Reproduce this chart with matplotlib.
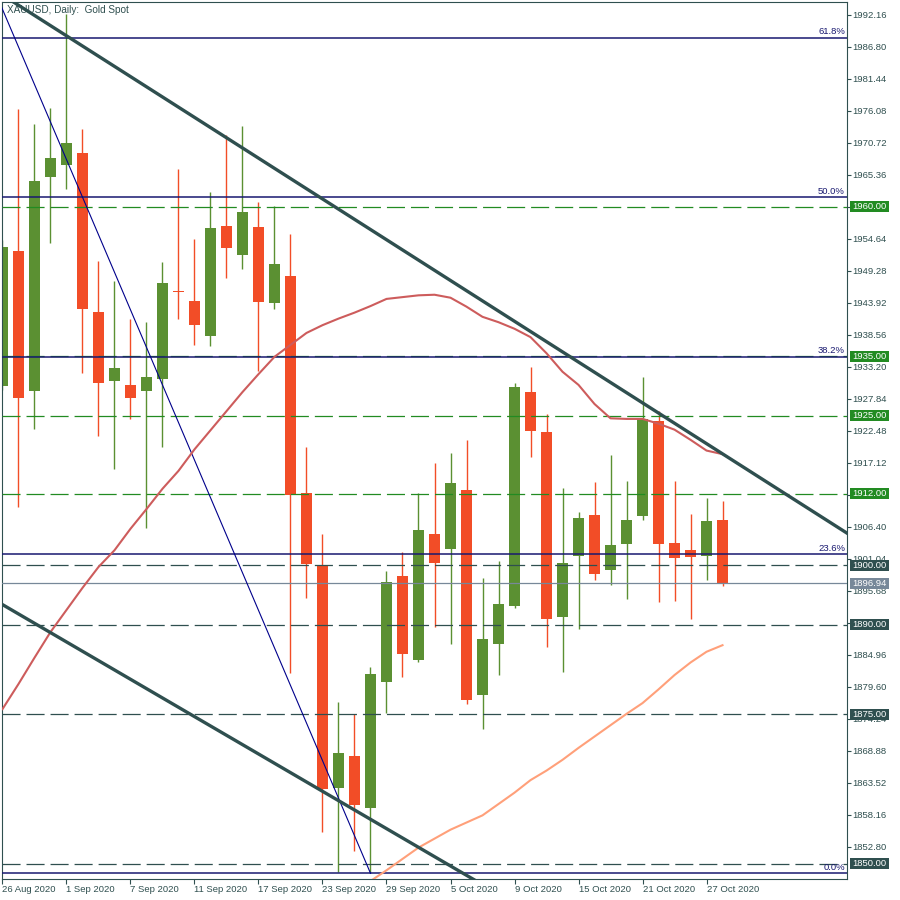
import matplotlib
matplotlib.use("Agg")
import matplotlib.pyplot as plt
from matplotlib.patches import Rectangle
from matplotlib.transforms import blended_transform_factory
import numpy as np

# daily XAUUSD bars, 26 Aug 2020 .. 28 Oct 2020
opens = [1930.0, 1952.6, 1929.2, 1965.0, 1967.0, 1969.0, 1942.4, 1930.9, 1930.2, 1929.2,
         1931.2, 1946.0, 1944.3, 1938.4, 1956.8, 1952.0, 1956.7, 1943.9, 1948.4, 1912.1,
         1899.9, 1862.7, 1868.0, 1859.3, 1880.4, 1898.2, 1884.1, 1905.2, 1902.7, 1912.6,
         1878.3, 1886.8, 1893.2, 1929.0, 1922.3, 1891.3, 1901.5, 1908.4, 1899.2, 1903.6,
         1908.2, 1924.2, 1903.7, 1902.5, 1901.5, 1907.6]
highs = [1954.5, 1976.4, 1973.9, 1976.6, 1992.3, 1973.1, 1951.0, 1947.6, 1941.2, 1940.7,
         1950.8, 1966.4, 1954.6, 1962.5, 1972.1, 1973.6, 1960.8, 1960.2, 1955.5, 1919.8,
         1905.2, 1877.1, 1875.1, 1883.0, 1899.0, 1902.2, 1912.1, 1917.1, 1918.8, 1921.0,
         1897.9, 1900.7, 1930.5, 1933.2, 1925.3, 1912.9, 1908.9, 1913.9, 1918.5, 1914.1,
         1931.5, 1925.8, 1914.1, 1908.6, 1911.3, 1910.8]
lows = [1929.3, 1909.8, 1922.8, 1954.0, 1963.0, 1932.2, 1921.6, 1916.1, 1924.5, 1906.2,
        1919.8, 1941.2, 1936.9, 1936.7, 1948.1, 1949.6, 1932.5, 1942.9, 1881.9, 1894.5,
        1855.3, 1848.6, 1852.1, 1848.4, 1875.2, 1881.3, 1883.8, 1889.7, 1886.8, 1876.8,
        1872.6, 1881.6, 1892.8, 1918.1, 1886.3, 1882.1, 1889.3, 1897.5, 1896.7, 1894.3,
        1907.6, 1893.8, 1894.0, 1891.0, 1897.5, 1896.5]
closes = [1953.3, 1928.0, 1964.4, 1968.2, 1970.7, 1942.9, 1930.5, 1933.0, 1928.0, 1931.5,
          1947.3, 1945.8, 1940.2, 1956.5, 1953.1, 1959.2, 1944.1, 1950.5, 1911.8, 1900.2,
          1862.5, 1868.5, 1859.8, 1881.8, 1897.2, 1885.1, 1905.9, 1900.4, 1913.8, 1877.4,
          1887.6, 1893.5, 1929.9, 1922.5, 1891.0, 1900.4, 1907.9, 1898.5, 1903.4, 1907.6,
          1924.5, 1903.6, 1901.2, 1901.4, 1907.4, 1896.94]

tick_labels = ["26 Aug 2020", "1 Sep 2020", "7 Sep 2020", "11 Sep 2020", "17 Sep 2020",
               "23 Sep 2020", "29 Sep 2020", "5 Oct 2020", "9 Oct 2020", "15 Oct 2020",
               "21 Oct 2020", "27 Oct 2020"]

# moving averages
ma_fast = [1875.9, 1880.1, 1884.5, 1888.8, 1892.5, 1896.2, 1899.7, 1902.5, 1906.1, 1909.4,
           1912.8, 1915.8, 1919.4, 1922.6, 1925.8, 1929.0, 1932.0, 1934.9, 1936.9, 1938.9,
           1940.2, 1941.3, 1942.3, 1943.4, 1944.6, 1944.9, 1945.2, 1945.3, 1944.8, 1943.3,
           1941.6, 1940.7, 1939.6, 1938.2, 1935.5, 1932.4, 1930.2, 1927.0, 1924.6, 1924.5,
           1924.5, 1923.7, 1922.7, 1921.0, 1919.2, 1918.6]
ma_slow_start = 23
ma_slow = [1847.1, 1848.9, 1850.8, 1852.7, 1854.2, 1855.7, 1856.9, 1858.1, 1860.0, 1861.9,
           1864.0, 1865.6, 1867.4, 1869.4, 1871.3, 1873.2, 1875.1, 1876.9, 1879.2, 1881.6,
           1883.7, 1885.5, 1886.6]

# channel trend lines (bar index, price)
upper_trend = [(0, 1995.5), (52, 1906.7)]
lower_trend = [(0, 1893.4), (52, 1812.1)]

# fibonacci retracement anchors: 7 Aug high -> 28 Sep low
fib_hi = (-13, 2074.9)
fib_lo = (23, 1848.4)
fib_levels = [0.0, 0.236, 0.382, 0.5, 0.618]

green_levels = [1960.0, 1935.0, 1925.0, 1912.0]
dark_levels = [1900.0, 1890.0, 1875.0, 1850.0]
last_price = 1896.94

UP = '#5b9032'
DOWN = '#f24d27'
SLATE = '#2f4f4f'
GREEN = '#228b22'
NAVY = '#191970'
GREY = '#778899'

plt.rcParams['font.family'] = ['Liberation Sans', 'DejaVu Sans']
plt.rcParams['lines.scale_dashes'] = False

fig = plt.figure(figsize=(9, 9), dpi=100)
ax = fig.add_axes([2 / 900, 21 / 900, 845 / 900, 877 / 900])
ax.set_xlim(-0.03, 52.78)
ax.set_ylim(1847.44, 1994.33)

idx = np.arange(len(opens))
o = np.array(opens)
c = np.array(closes)
cols = [UP if cc >= oo else DOWN for oo, cc in zip(o, c)]

ax.vlines(idx, lows, highs, colors=cols, linewidth=1.0, zorder=2)
body_h = np.maximum(np.abs(c - o), 0.18)
ax.bar(idx, body_h, bottom=np.minimum(o, c), width=0.69, color=cols, linewidth=0, zorder=2)

# horizontal levels
dash = (0, (13, 4.3))
for lv in green_levels:
    ax.axhline(lv, color=GREEN, linewidth=0.9, linestyle=dash, zorder=3)
for lv in dark_levels:
    ax.axhline(lv, color=SLATE, linewidth=0.9, linestyle=dash, zorder=3)
ax.axhline(last_price, color=GREY, linewidth=0.9, zorder=3)

# fibonacci
trans_lbl = blended_transform_factory(ax.transAxes, ax.transData)
fib_range = fib_hi[1] - fib_lo[1]
for f in fib_levels:
    lv = fib_lo[1] + f * fib_range
    ax.axhline(lv, color=NAVY, linewidth=1.1, zorder=4)
    ax.text(1 - 2 / 845, lv + 0.25, '%.1f%%' % (f * 100), transform=trans_lbl,
            ha='right', va='bottom', color=NAVY, fontsize=6.8, zorder=4)
ax.plot([fib_hi[0], fib_lo[0]], [fib_hi[1], fib_lo[1]], color='#00008b', linewidth=0.8, zorder=4)


def ray(pts, x0=-2, x1=60):
    (xa, ya), (xb, yb) = pts
    k = (yb - ya) / (xb - xa)
    return [x0, x1], [ya + k * (x0 - xa), ya + k * (x1 - xa)]


for pts in (upper_trend, lower_trend):
    xs, ys = ray(pts)
    ax.plot(xs, ys, color=SLATE, linewidth=2.4, zorder=5, solid_capstyle='butt')

# moving averages
ax.plot(idx, ma_fast, color='#cd5c5c', linewidth=1.5, zorder=4)
ax.plot(np.arange(ma_slow_start, ma_slow_start + len(ma_slow)), ma_slow,
        color='#ffa07a', linewidth=1.5, zorder=4)

# axes styling
for s in ax.spines.values():
    s.set_color(SLATE)
    s.set_linewidth(0.8)
ax.yaxis.tick_right()
yt = 1852.80 + 5.36 * np.arange(27)
tags = [(lv, GREEN) for lv in green_levels] + [(lv, SLATE) for lv in dark_levels] + [(last_price, GREY)]
# tick labels that sit fully under a price tag are not visible in the terminal
ylabels = []
for v in yt:
    hidden = any(abs(v - lv) < 0.5 for lv, _ in tags)
    ylabels.append('' if hidden else '%.2f' % v)
ax.set_yticks(yt)
ax.set_yticklabels(ylabels)
ax.set_xticks(np.arange(0, 48, 4))
ax.set_xticklabels(tick_labels, ha='left')
ax.tick_params(axis='y', direction='out', length=3, width=0.8, pad=1, colors=SLATE, labelsize=6.8)
ax.tick_params(axis='x', direction='out', length=3.6, width=0.8, pad=1, colors=SLATE, labelsize=6.8)

# price tags on the right
box_h = 11 / 5.97
for lv, col in tags:
    ax.add_patch(Rectangle((1 + 3 / 845, lv - box_h / 2), 39 / 845, box_h, transform=trans_lbl,
                           facecolor=col, edgecolor='none', clip_on=False, zorder=9))
    ax.text(1 + 22.5 / 845, lv, '%.2f' % lv, transform=trans_lbl, ha='center', va='center',
            color='white', fontsize=6.8, clip_on=False, zorder=10)

ax.text(5 / 845, 1 - 3 / 877, 'XAUUSD, Daily:  Gold Spot', transform=ax.transAxes,
        ha='left', va='top', color=SLATE, fontsize=7.2, zorder=1)

fig.savefig('out.png', dpi=100, facecolor='white')
